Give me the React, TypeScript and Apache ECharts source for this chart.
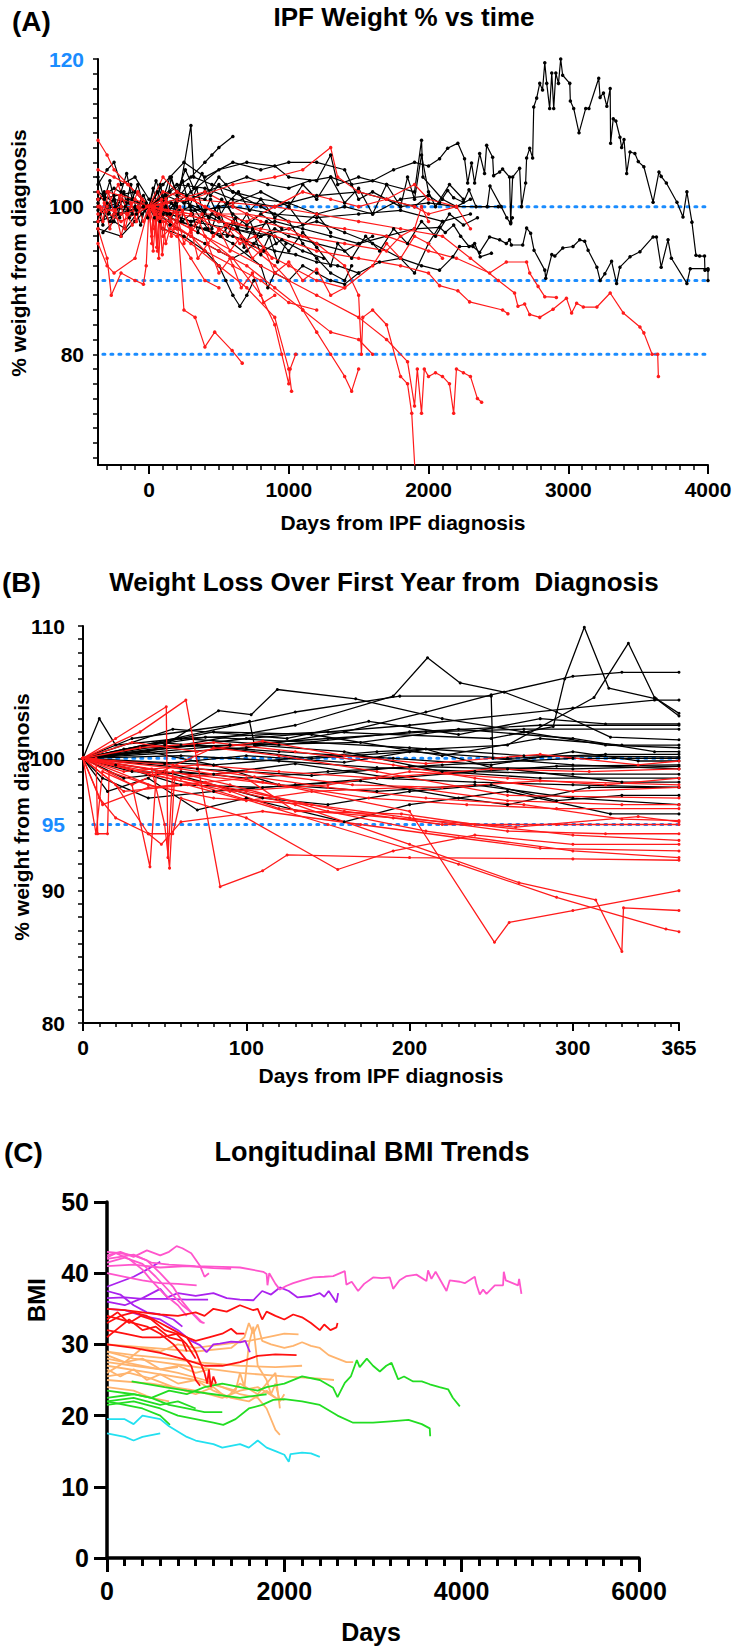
import React, { useEffect, useRef } from 'react';
import * as echarts from 'echarts';

type Pt = [number, number];

// ---------------- Panel A : IPF Weight % vs time ----------------
const A_xLabels = [0, 1000, 2000, 3000, 4000];
const A_yLabels = [80, 100, 120];
const A_refLines = [80, 90, 100];

const A_black: Pt[][] = [
  [[-365,101],[-250,102.5],[-120,101],[0,100],[120,101.5],[250,100.5],[400,102],[550,103],[700,104],[850,103],[1000,102.5],[1150,103.5],[1300,104],[1450,103],[1600,103.5],[1750,105],[1900,106],[2000,105.5],[2079,106.5],[2137,107.9],[2210,108.6],[2258,106.5],[2280,103.2],[2308,105.9],[2330,103.2],[2366,107.2],[2401,104.5],[2416,108.3],[2459,106.7],[2466,104.2],[2509,104.7],[2530,105.1],[2580,104],[2588,97.9],[2602,104],[2652,105.2],[2666,100],[2695,103.2],[2702,106.6],[2724,107.9],[2745,106.6],[2753,113.5],[2774,114.7],[2796,116.7],[2816,115.8],[2832,119.5],[2846,116.7],[2867,113.3],[2882,118.1],[2896,113.3],[2911,118.1],[2930,116.7],[2946,120],[2960,117.8],[3011,116.7],[3015,114.3],[3039,113.3],[3077,110],[3125,113.3],[3148,113.3],[3218,117.4],[3228,114.8],[3252,115.4],[3276,113.6],[3300,116],[3303,108.6],[3322,111.9],[3341,111.6],[3370,109.4],[3382,108],[3399,109.1],[3418,104.5],[3442,107.4],[3477,107.2],[3501,106.1],[3541,105.4],[3607,100.6],[3649,104.7],[3665,104.1],[3702,103.2],[3778,100.6],[3821,98.6],[3849,102],[3885,97.9],[3914,93.4],[3940,93.3],[3975,93.3],[3978,91.4],[4000,91.4]],
  [[-300,100],[-150,99.5],[0,100],[150,98.5],[300,97.5],[450,96.5],[600,96],[750,95],[900,94],[1050,93.5],[1200,92.5],[1350,92],[1500,91],[1650,92.5],[1800,93],[1950,92],[2079,91.4],[2174,93.2],[2222,94.6],[2318,94.6],[2366,93.8],[2437,95.9],[2509,95.5],[2557,95],[2580,95.5],[2593,94.8],[2674,94.8],[2702,97.1],[2731,96.4],[2755,94.1],[2832,91.4],[2839,90.3],[2882,93.5],[2904,93.3],[2961,94.4],[3034,94.6],[3082,95.5],[3118,95.3],[3142,94.1],[3205,91.8],[3228,90],[3262,90.9],[3310,92.6],[3346,89.6],[3370,91.8],[3442,93.2],[3513,93.9],[3607,95.9],[3631,95.9],[3665,91.8],[3714,95.5],[3738,93],[3849,89.6],[3873,91.6],[4000,91.6],[4000,90]],
  [[-350,99],[-250,101],[-150,100.5],[-50,99],[0,100],[100,101],[200,100],[300,111],[320,104],[450,103],[600,102],[800,101],[1000,100.5],[1200,99],[1400,100],[1600,99],[1800,101],[2000,101.5],[2079,100.5],[2137,102.2],[2180,101.2],[2250,100.6],[2290,102.3],[2340,100],[2420,100],[2440,102.8],[2520,100],[2560,98.5],[2588,97.7],[2600,98.5]],
  [[0,100],[150,102],[300,104],[400,106],[450,107],[500,108],[600,109.5]],
  [[-365,103],[-300,105],[-250,106],[-200,103],[-100,104],[0,101],[150,99],[300,100],[500,98],[700,97],[900,98],[1100,97],[1300,96],[1500,95],[1700,96],[1900,97],[2079,97.2],[2120,96.5],[2180,97.5],[2230,96],[2290,94.6],[2330,95],[2370,93.2],[2450,93.7]],
  [[-365,97],[-200,96],[-100,98],[0,100],[100,99],[300,102],[500,105],[700,106],[900,105.5],[1000,104],[1200,103.5],[1300,107],[1350,103],[1500,104],[1700,103],[1900,102],[1950,109],[1960,104],[2100,101],[2200,100],[2300,101]],
  [[-300,100],[-150,101],[0,100],[200,98],[400,97],[600,95],[800,92],[850,89],[900,91],[1000,90],[1100,92],[1200,91],[1300,90],[1400,89.5],[1500,91]],
  [[-365,102],[-200,100],[0,100],[100,103],[250,106],[400,104],[600,106],[800,105],[1000,106],[1200,106],[1400,105],[1500,101],[1600,102],[1800,100],[2000,100.5],[2200,100],[2500,100]],
  [[-250,99],[0,100],[200,97],[400,95],[500,94],[600,93],[700,94],[800,96],[900,97],[1000,96],[1200,95],[1400,94],[1600,96]],
  [[-365,98],[-200,99],[0,100],[300,99.5],[600,100],[900,99],[1200,98.5],[1500,99],[1800,99.5],[2100,98],[2300,99]],
  [[0,100],[200,102],[400,101],[500,104],[600,102],[800,100],[1000,98],[1100,95],[1200,93],[1300,91],[1400,90],[1450,92]],
  [[-200,100],[0,100],[100,97],[250,96],[400,94],[500,92],[550,90],[600,88],[650,86.5],[700,88],[750,90]],
  [[-365,101],[-100,102],[0,100],[200,103],[400,102.5],[600,101],[900,100],[1200,101.5],[1500,102],[1700,101],[1900,100],[2000,101.5]],
  [[0,100],[150,99],[300,98],[450,99],[600,97],[800,96],[1000,97],[1200,98],[1400,96.5],[1600,95],[1800,93],[1900,91],[2000,95],[2100,98]],
  [[-365,100],[-280,98],[-200,101],[-120,99],[-40,101.5],[0,100],[60,102],[130,99],[200,101],[280,103],[350,100],[430,98.5],[520,101],[600,99],[700,97.5],[800,99],[950,97]],
  [[-330,96.5],[-250,98],[-170,97],[-90,99],[0,100],[80,98],[160,100.5],[240,98],[330,99.5],[420,97],[510,96],[600,98],[700,95],[820,94],[950,95.5],[1100,94],[1250,93]],
  [[-365,100.5],[-320,102],[-290,99],[-250,101.5],[-210,98.5],[-170,100],[-130,103],[-90,99.5],[-50,101],[-10,98.5],[0,100],[30,102.5],[70,99],[110,101],[150,97.5],[190,100.5],[230,98],[270,101.5],[310,99],[350,96.5],[400,99.5],[450,97],[500,100],[560,96],[620,98.5],[680,94.5],[740,97],[800,93.5],[860,96],[920,92.5],[980,95]],
  [[-365,99.5],[-330,97.5],[-300,100.5],[-260,98],[-220,99],[-180,102],[-140,98.5],[-100,100],[-60,97.5],[-20,100.5],[0,100],[40,98.5],[80,103],[120,100],[160,104],[200,101.5],[240,103.5],[290,100],[340,102.5],[390,99],[440,101],[500,98.5],[560,100.5],[630,97],[700,99],[770,96],[840,98],[910,95]],
  [[-365,104],[-320,101],[-280,103.5],[-240,100],[-200,102],[-160,104.5],[-120,101],[-80,103],[-40,100],[0,100],[50,103.5],[100,101],[150,104],[200,102],[260,105],[320,102.5],[380,104.5],[440,101.5],[500,103],[560,100.5],[640,102],[720,99.5],[800,101],[900,98.5],[1000,100],[1100,97.5],[1200,99],[1300,96.5]],
  [[0,100],[200,101],[400,99.5],[600,100.5],[800,102],[1000,100],[1100,103],[1200,101],[1300,104],[1400,100.5],[1500,102.5],[1600,99],[1700,103],[1800,100],[1850,104],[1900,101],[1950,107],[2000,102],[2050,100],[2150,103],[2250,101]],
  [[0,100],[300,98],[600,97],[900,96],[1000,94],[1100,96.5],[1200,94.5],[1300,92],[1350,95],[1450,93],[1550,96],[1650,94],[1750,97],[1850,95],[1950,98],[2050,96],[2150,99],[2250,97.5],[2350,98.5]],
];

const A_red: Pt[][] = [
  [[-365,109],[-300,107],[-250,105],[-150,103],[-50,101],[0,100],[100,98],[200,97],[300,96],[400,94],[600,92],[800,90],[1000,87],[1200,86]],
  [[-365,97],[-300,93],[-270,88],[-200,91],[-100,90],[-40,89.5],[-20,92],[0,100],[100,97],[200,96],[300,93],[400,90],[500,89]],
  [[-350,100],[-200,99],[0,100],[20,95],[40,100],[60,94],[80,99],[100,96],[200,98],[400,96],[600,93],[800,88],[900,84],[950,80],[1000,76],[1010,78],[1050,80]],
  [[-300,102],[-100,101],[0,100],[200,99],[250,86],[330,85],[400,81],[470,83],[595,80.5],[667,78.8]],
  [[-365,99],[-200,100],[0,100],[200,101],[400,102],[600,100],[800,98],[1000,97],[1200,95],[1400,92],[1500,88],[1520,80],[1530,85],[1600,86],[1700,84],[1800,77],[1850,76],[1880,72],[1910,62]],
  [[-200,101],[0,100],[300,99],[500,97],[700,95],[900,92],[1000,90],[1100,86],[1200,83],[1300,80],[1400,77],[1450,75],[1500,78]],
  [[0,100],[300,101],[600,103],[900,104],[1100,105],[1300,108],[1350,104],[1500,102],[1700,101],[1900,100],[2000,99],[2200,100],[2300,97]],
  [[0,100],[200,99],[500,98],[800,97],[1100,96],[1400,95],[1700,94],[1800,96],[1900,97],[1950,100],[2000,98]],
  [[0,100],[400,96],[800,92],[1200,88],[1500,85],[1700,82],[1850,79],[1900,73],[1920,78],[1950,72],[1970,78],[2000,77],[2050,77.5],[2100,77],[2150,76],[2180,72],[2200,78],[2250,77.5],[2300,77],[2350,74],[2380,73.5]],
  [[0,100],[200,102],[400,100],[600,98],[900,96],[1200,94],[1500,93],[1800,92],[2000,91],[2079,89.3],[2210,88.6],[2294,87.1],[2530,86],[2568,85.5]],
  [[0,100],[300,99],[700,99],[1000,98],[1400,97],[1700,96],[2000,94],[2200,93],[2437,91],[2557,92.5],[2702,92.5],[2724,91],[2784,89.2],[2832,87.8],[2915,87.7]],
  [[0,100],[300,101],[600,100.5],[900,100],[1200,99],[1500,98],[1800,97],[2100,96],[2300,93],[2500,90],[2616,88.3],[2640,86.5],[2688,86.8],[2724,85.4],[2796,85],[2891,86.1],[2987,87.6],[3024,85.6],[3060,86.9],[3108,86.4],[3205,86.4],[3300,88.3],[3394,85.6],[3513,83.7],[3541,82.9],[3600,80],[3640,80],[3645,77]],
  [[-365,100],[-200,98],[0,100],[30,94],[50,99],[70,93],[90,100],[120,95],[150,97],[300,95],[500,92],[700,89],[900,85],[1000,78],[1020,75]],
  [[-365,105],[-250,104],[-150,103],[0,100],[100,102],[300,101],[500,99],[700,98],[900,100],[1100,102],[1300,101],[1500,100],[1700,101],[1900,103],[2000,101],[2200,100]],
  [[-365,95],[-300,92],[-250,91],[-100,93],[0,100],[150,98],[300,96],[500,94],[700,92],[900,89],[1100,86],[1300,83],[1500,82],[1600,80]],
  [[0,100],[100,104],[200,102],[400,100],[600,97],[800,94],[1000,92],[1200,90],[1400,89],[1600,92],[1700,95],[1800,93],[1900,96],[2000,95],[2100,93]],
  [[-365,102],[-300,100],[-220,103],[-150,99],[-80,102],[0,100],[40,97],[90,101],[150,98.5],[220,100],[300,97],[380,99],[460,96],[550,97.5],[650,95],[760,96],[880,93]],
  [[-365,101],[-330,98],[-290,102],[-250,99],[-210,101.5],[-170,97],[-130,100.5],[-90,98],[-50,101],[0,100],[20,96],[35,100],[55,94.5],[75,99],[95,93.5],[120,98],[160,96],[200,99],[250,95],[300,97],[350,93],[420,95],[500,91],[580,93],[660,89],[740,91],[820,87],[900,88]],
  [[-365,98],[-320,100.5],[-280,97],[-240,99.5],[-200,96],[-160,99],[-120,97.5],[-80,100],[-40,98],[0,100],[60,98.5],[120,101],[180,97],[240,99.5],[300,96.5],[360,98],[420,95],[500,97],[580,94],[660,96],[740,93],[820,94.5],[900,91],[1000,92.5],[1100,90],[1200,91.5],[1300,88],[1400,89]],
];

// ---------------- Panel B : first year ----------------
const B_xLabels = [0, 100, 200, 300, 365];
const B_yLabels = [80, 90, 95, 100, 110];
const B_refLines = [95, 100];

const B_black: Pt[][] = [
  [[0,100],[60,101.5],[150,102],[250,101.5],[288,102.4],[295,106],[307,109.9],[322,105.3],[351,104.5],[365,103.2]],
  [[0,100],[80,99.5],[180,100.5],[260,101],[313,104.6],[334,108.7],[350,104.6],[365,103.4]],
  [[0,100],[60,101],[130,102.5],[190,104.7],[211,107.6],[231,105.7],[258,105],[290,103.5],[323,101.6],[365,101.4]],
  [[0,100],[50,101],[83,103.6],[103,103.3],[119,105.2],[167,104.5],[220,103],[270,102],[320,101],[365,100.8]],
  [[0,100],[100,100.8],[160,102],[210,103.5],[250,104.8],[300,106.2],[330,106.5],[365,106.5]],
  [[0,100],[130,103.5],[194,104.7],[250,104.7],[251,100],[300,99.5],[365,99.2]],
  [[0,100],[100,101.5],[200,102.5],[300,103.8],[350,104.4],[365,104.4]],
  [[0,100],[10,103],[20,101],[60,101.5],[120,101],[200,102],[280,102.5],[365,102.5]],
  [[0,100],[25,98.5],[60,99],[100,98.5],[150,99],[220,99.5],[300,100],[365,100]],
  [[0,100],[15,97.5],[40,98.5],[70,96.1],[100,97],[160,95.2],[200,96.5],[260,97.5],[323,95.8],[365,95.8]],
  [[0,100],[30,101.5],[90,102.5],[102,102.8],[105,101],[160,100.5],[220,99],[280,98.5],[365,98.5]],
  [[0,100],[40,100.5],[80,99.5],[120,98],[180,97.5],[240,98],[300,97],[365,96.5]],
  [[0,100],[70,101],[140,100],[200,100.5],[260,100],[320,100.3],[365,100.3]],
  [[0,100],[50,99],[110,97],[150,96.5],[200,97.5],[250,98],[290,96.8],[330,97.2],[365,97.2]],
  [[0,100],[80,102],[140,101.8],[220,100.2],[280,101.5],[330,101],[365,101]],
  [[0,100],[60,100.2],[120,99.8],[180,99.3],[240,99],[300,98.8],[365,98.8]],
  [[0,100],[35,100.8],[90,101],[150,101.5],[210,102],[270,102.2],[365,102.2]],
  [[0,100],[20,99.5],[60,98],[110,97.8],[170,98.3],[230,97],[260,96.5],[310,97.8],[365,97.8]],
  [[0,100],[45,101.2],[120,100.5],[190,100],[250,99.5],[300,100.5],[340,99.8],[365,99.8]],
  [[0,100],[30,99],[80,98.8],[130,99.6],[190,98.5],[240,99],[290,99.4],[365,99.5]],
  [[0,100],[90,101],[170,101.2],[230,102.2],[300,101.5],[350,100.5],[365,100.5]],
  [[0,100],[55,102.2],[125,101.5],[175,102.8],[230,101.8],[280,103],[320,102.6],[365,102.6]],
  [[0,100],[12,98.5],[40,97],[80,97.5],[130,98],[180,98.5],[240,98.2],[300,98],[365,97.8]],
  [[0,100],[70,99.2],[140,98.7],[200,99.4],[260,99.2],[330,98.2],[365,98.2]],
  [[0,100],[25,100.7],[75,101.6],[140,101.2],[200,100.8],[270,100.2],[365,100.1]],
  [[0,100],[50,99.6],[100,100.2],[160,99.7],[210,100.7],[250,99.3],[300,99.2],[365,99.4]],
];

const B_red: Pt[][] = [
  [[0,100],[8,100],[9,94.3],[15,94.3],[16,99],[40,98],[80,97],[140,96.5],[200,95.5],[260,94.5],[320,94.3],[365,94.3]],
  [[0,100],[30,98],[41,91.8],[45,99],[60,98.5],[100,97.5],[160,96],[220,95],[290,95],[365,95]],
  [[0,100],[20,101.5],[51,103.9],[52,92.5],[55,99],[90,98],[150,96],[210,94.5],[300,93],[365,92.5]],
  [[0,100],[35,102],[63,104.4],[84,90.3],[110,91.5],[125,92.7],[200,92.5],[300,92.4],[365,92.3]],
  [[0,100],[20,98],[40,94.3],[55,94.3],[60,97],[100,95.5],[156,91.6],[190,93],[240,94.2],[300,93.5],[365,93.5]],
  [[0,100],[50,99],[120,98],[200,96],[252,86.1],[261,87.6],[300,88.5],[365,90]],
  [[0,100],[60,98.5],[130,96.5],[200,93.5],[267,90.6],[314,89.3],[330,85.4],[331,88.7],[365,88.5]],
  [[0,100],[70,98],[150,95],[230,92],[290,89.5],[357,87.1],[365,86.9]],
  [[0,100],[25,99],[70,99.5],[120,99],[180,98.5],[250,99.2],[310,99],[365,99.2]],
  [[0,100],[40,98.8],[90,97.5],[150,98],[200,99],[260,98.5],[320,98],[365,98.5]],
  [[0,100],[35,100.8],[80,101.2],[130,100.5],[190,99.5],[240,98.5],[300,97.5],[365,97.8]],
  [[0,100],[60,99.2],[110,98.2],[175,97],[235,96.5],[290,96.2],[365,96.2]],
  [[0,100],[45,97.8],[100,98.5],[130,96],[195,95.8],[240,95],[300,94.2],[365,93.8]],
  [[0,100],[10,97],[20,95.5],[40,94.3],[48,93.5],[60,95.2],[110,96],[170,95],[230,94],[280,93.2],[365,93]],
  [[0,100],[8,94.3],[12,99],[30,98],[80,100.8],[120,100.2],[180,99],[260,97.2],[365,97]],
  [[0,100],[55,99.5],[105,98.6],[150,97.8],[210,97],[270,96.5],[330,95.4],[365,95.3]],
  [[0,100],[30,101.2],[70,100.5],[110,101.3],[160,100.2],[210,99.6],[280,100.3],[340,99.5],[365,99.8]],
  [[0,100],[25,97.5],[64,98],[100,96.8],[140,97.5],[200,97.8],[260,96.8],[330,96.5],[365,96.5]],
  [[0,100],[42,99.2],[50,95],[53,91.7],[56,98.5],[100,99],[165,98],[220,97.8],[280,98.3],[365,98]],
  [[0,100],[12,96.5],[40,97.8],[75,98.2],[120,96.2],[190,95.5],[265,94.8],[340,95.6],[365,95.2]],
];

// ---------------- Panel C : BMI ----------------
const C_xLabels = [0, 2000, 4000, 6000];
const C_yLabels = [0, 10, 20, 30, 40, 50];

const C_pink: Pt[][] = [
  [[0,42],[150,42.3],[300,42.6],[500,41.5],[700,41.2],[1000,41],[1300,40.9],[1500,40.8],[1762,40.2],[1800,39.9],[1810,38.3],[1830,40],[1900,38.5],[1950,37.7],[2020,38.2],[2100,38.6],[2200,39],[2326,39.4],[2450,39.5],[2551,39.6],[2682,40.3],[2700,38.4],[2760,38.8],[2832,37.5],[2900,38.5],[3001,39.4],[3100,39.3],[3190,39.4],[3227,37.8],[3300,39],[3378,39.6],[3490,39.8],[3603,38.9],[3621,40.4],[3659,39.2],[3706,40.2],[3829,37.5],[3866,39],[3979,38.8],[4035,38.6],[4148,39.5],[4167,38.4],[4204,37],[4242,37.7],[4280,37.1],[4374,38.3],[4467,38.3],[4475,40.2],[4497,39],[4636,38.3],[4648,39.2],[4674,37.1]],
  [[0,43],[150,42.8],[300,42.5],[450,41.8],[600,40],[750,38],[850,36],[950,34.5],[1050,33.2],[1100,33]],
  [[0,41.5],[200,42.2],[400,41.3],[550,39.5],[700,37.5],[850,35.5],[1000,34],[1080,33]],
  [[0,42.5],[150,43],[300,42.3],[450,43.2],[600,42.5],[700,43],[785,43.8],[850,43.5],[950,42.8],[1050,41],[1100,39.5],[1150,40]],
  [[0,41],[300,41.2],[600,40.8],[900,41],[1200,40.7],[1400,40.6]],
  [[0,40],[200,39.5],[400,39],[600,38.6],[800,38.5],[1011,38.3]],
  [[0,42.2],[100,42.8],[250,42],[400,40.5],[500,39],[650,37],[800,35.5],[900,34]],
];
const C_purple: Pt[][] = [
  [[0,38.1],[150,38.8],[300,39.5],[450,40.5],[600,41.6]],
  [[0,36],[200,35.5],[400,36.5],[600,37.8],[680,36.6],[800,37.2],[1000,36.8],[1200,37.2],[1350,36.5],[1500,36.3],[1650,36.2],[1750,37.5],[1850,37],[1950,38],[2050,37.5],[2150,36.6],[2300,36.8],[2400,37.2],[2450,36.7],[2500,37.5],[2588,35.9],[2607,37.2]],
  [[0,36.5],[200,36.6],[400,36.4],[700,36.4],[900,36.3],[1140,36.3]],
  [[0,35],[200,34.8],[400,34],[600,33.5],[800,32],[950,30.5],[1048,29.9],[1123,28.9],[1200,30],[1273,30.1],[1400,30.4],[1500,30.3],[1560,30.5],[1612,28.9]],
  [[0,37.5],[150,37],[300,35.5],[450,34.5],[600,34.2],[750,33.5],[850,32.5]],
];
const C_red: Pt[][] = [
  [[0,33],[150,34],[300,34.5],[450,34],[600,33],[750,32],[900,31],[1000,29],[1050,27.5],[1100,26],[1130,24.5],[1150,26.5],[1170,24],[1200,25.5],[1230,24.5]],
  [[0,35],[200,34.8],[400,34.5],[600,34.2],[800,34],[1000,34.5],[1100,34],[1200,35],[1350,34.6],[1500,35.5],[1650,34.8],[1700,35],[1750,33.5],[1800,34.6],[1900,34],[2000,33.5],[2100,34.2],[2200,33.8],[2300,33],[2400,32],[2450,32.8],[2520,32],[2588,32.4],[2600,33]],
  [[0,32],[200,31.5],[400,31],[600,31],[800,31.5],[1000,30.5],[1150,31],[1300,31.5],[1400,32.2],[1465,31.5],[1550,31.5]],
  [[0,30],[300,29.5],[600,28.8],[900,27.8],[1100,27],[1300,27],[1500,27.5],[1700,28.4],[1900,28.6],[2138,28.5]],
  [[0,34],[150,33.5],[300,33],[450,32.5],[600,31.5],[750,30],[850,28.5],[950,27],[1000,25],[1050,24.2]],
  [[0,31],[100,32],[250,33.5],[400,32],[550,32.5],[700,31],[850,30.5],[900,29]],
  [[0,33.5],[120,34.5],[250,33],[380,34],[500,33.5],[650,32],[780,31.5],[900,30],[1000,28]],
];
const C_orange: Pt[][] = [
  [[0,29],[300,28],[600,27.5],[900,27],[1200,26.5],[1500,26],[2000,25.5],[2400,25.2],[2560,25]],
  [[0,30],[500,29.5],[1000,29],[1400,29.5],[1550,31],[1600,33],[1650,31.5],[1700,32.8],[1750,30.5],[1850,30],[2000,29.5],[2100,29.8],[2200,30.3],[2300,29.8],[2400,29.5],[2500,28.5],[2600,28],[2700,27.5],[2776,27.5]],
  [[0,28],[400,27],[800,26],[1100,25],[1300,24],[1500,23],[1700,22.5],[1800,21],[1900,18],[1950,17.3]],
  [[0,27],[500,26],[1000,25],[1300,24],[1450,23.5],[1500,26],[1550,24],[1600,30],[1650,32.5],[1700,27],[1800,25],[1850,23],[1900,24.5],[1950,22],[2000,23]],
  [[0,25],[500,24.5],[1000,23.5],[1300,22.5],[1500,23.5],[1700,24],[1900,22.5],[2000,22.2]],
  [[0,26],[200,27.5],[400,29.5],[600,29],[800,30],[1000,29.5],[1300,30],[1600,30.5],[1800,31],[2000,31.5],[2160,31.4]],
  [[0,24],[300,23.5],[500,22.5],[700,22]],
  [[0,27.5],[300,27],[600,26.5],[800,26.8]],
  [[0,29],[300,28.5],[700,28],[1000,27.5],[1500,27],[1900,26.8],[2200,27]],
  [[0,26.5],[150,25.5],[300,26.5],[450,25],[600,25.8],[800,24.5],[1000,25],[1200,23.5],[1400,22.5],[1600,22],[1800,23.5],[1900,22.5]],
  [[0,28.5],[200,27.5],[400,28],[600,26.5],[800,27],[1000,26],[1150,26.5]],
  [[0,25.5],[250,26],[500,25.2],[750,24],[1000,23],[1200,24],[1350,22.5],[1500,24.5],[1700,23],[1900,26],[1950,21]],
];
const C_green: Pt[][] = [
  [[0,22.5],[300,23],[500,22.5],[700,23.5],[900,23],[1100,24],[1300,24.5],[1500,24],[1700,23.5],[1800,24],[2000,24.5],[2200,25.5],[2400,25],[2550,23.9],[2600,22.6],[2682,24.6],[2750,25.5],[2818,27.8],[2850,26.8],[2930,28],[3000,27],[3077,26.2],[3150,27],[3209,27.4],[3284,25.1],[3350,25.5],[3453,24.8],[3550,24.8],[3640,24.4],[3750,24],[3847,23.7],[3900,22.5],[3979,21.3]],
  [[0,21.5],[300,22],[600,21],[800,20],[1000,19.5],[1200,19],[1311,18.7],[1450,19.5],[1600,21],[1750,21.5],[1875,22.2],[2000,22.3],[2200,22],[2400,21.5],[2600,20],[2776,19],[3000,19],[3200,19.2],[3400,19.4],[3550,18.8],[3640,18.2],[3645,17.1]],
  [[0,23.5],[300,23],[500,22.5],[700,21.5],[900,21],[1100,20.5],[1300,20.5]],
  [[0,22],[200,21.5],[400,21],[600,20],[710,18.7]],
  [[278,24.8],[650,24],[900,23.5],[1200,23],[1500,22.5],[1800,23]],
  [[0,22],[300,22.5],[600,21.5],[800,22],[1000,21]],
];
const C_cyan: Pt[][] = [
  [[0,19.5],[200,19.5],[300,18.8],[400,20],[600,19.5],[700,18.5],[900,17],[1000,16.5],[1200,16],[1300,15.5],[1500,16],[1600,15.5],[1700,16.5],[1800,15.5],[1900,15],[2000,14.5],[2050,13.5],[2070,14.6],[2200,14.8],[2300,14.7],[2400,14.2]],
  [[0,17.5],[200,17],[300,16.5],[400,17],[600,17.5]],
];

// ---------------- helpers ----------------
const FONT = '"Liberation Sans", Arial, Helvetica, sans-serif';
const BLUE = '#1a8cff';

function steps(from: number, to: number, step: number): number[] {
  const out: number[] = [];
  for (let v = from; v <= to + 1e-9; v += step) out.push(Math.round(v * 1000) / 1000);
  return out;
}

function lines(groups: Pt[][], color: string, xi: number, yi: number, width: number, sym: number) {
  return groups.map((d) => ({
    type: 'line',
    xAxisIndex: xi,
    yAxisIndex: yi,
    data: d,
    silent: true,
    symbol: sym > 0 ? 'circle' : 'none',
    symbolSize: sym,
    showSymbol: sym > 0,
    lineStyle: { color, width },
    itemStyle: { color },
    z: 3,
  }));
}

function refLines(vals: number[], x0: number, x1: number, xi: number, yi: number) {
  return vals.map((v) => ({
    type: 'line',
    xAxisIndex: xi,
    yAxisIndex: yi,
    data: [[x0, v], [x1, v]],
    silent: true,
    symbol: 'none',
    lineStyle: { color: BLUE, width: 3, type: [2, 6], cap: 'round' },
    z: 2,
  }));
}

const labelStyle = (size: number) => ({
  fontFamily: FONT,
  fontWeight: 'bold',
  fontSize: size,
});
const plain = (v: any) => String(v);

export default function App() {
  const ref = useRef<HTMLDivElement>(null);
  useEffect(() => {
    if (!ref.current) return;
    const chart = echarts.init(ref.current, null, { renderer: 'svg' });
    const axLine = (w: number) => ({ show: true, onZero: false, lineStyle: { color: '#000', width: w } });
    const option: any = {
      animation: false,
      backgroundColor: '#fff',
      grid: [
        { left: 98, top: 59, width: 610, height: 406 },
        { left: 83, top: 626, width: 596, height: 397 },
        { left: 107, top: 1202, width: 532, height: 356 },
      ],
      xAxis: [
        { gridIndex: 0, position: 'bottom', type: 'value', min: -365, max: 4000, axisLine: axLine(2), splitLine: { show: false },
          axisTick: { show: true, customValues: steps(-300, 4000, 100), length: 5, lineStyle: { color: '#000', width: 1.5 } },
          axisLabel: { customValues: A_xLabels, formatter: plain, margin: 14, color: '#000', ...labelStyle(21) } },
        { gridIndex: 0, position: 'bottom', type: 'value', min: -365, max: 4000, axisLine: { show: false }, splitLine: { show: false },
          axisTick: { show: true, customValues: A_xLabels, length: 9, lineStyle: { color: '#000', width: 2 } },
          axisLabel: { show: false } },
        { gridIndex: 1, position: 'bottom', type: 'value', min: 0, max: 365, axisLine: axLine(2), splitLine: { show: false },
          axisTick: { show: true, customValues: steps(0, 360, 10).concat([365]), length: 4, lineStyle: { color: '#000', width: 1.5 } },
          axisLabel: { customValues: B_xLabels, formatter: plain, margin: 14, color: '#000', ...labelStyle(21) } },
        { gridIndex: 1, position: 'bottom', type: 'value', min: 0, max: 365, axisLine: { show: false }, splitLine: { show: false },
          axisTick: { show: true, customValues: B_xLabels, length: 8, lineStyle: { color: '#000', width: 2 } },
          axisLabel: { show: false } },
        { gridIndex: 2, position: 'bottom', type: 'value', min: 0, max: 6000, axisLine: axLine(3.5), splitLine: { show: false },
          axisTick: { show: true, customValues: steps(0, 6000, 200), length: 8, lineStyle: { color: '#000', width: 3 } },
          axisLabel: { customValues: C_xLabels, formatter: plain, margin: 20, color: '#000', ...labelStyle(25) } },
        { gridIndex: 2, position: 'bottom', type: 'value', min: 0, max: 6000, axisLine: { show: false }, splitLine: { show: false },
          axisTick: { show: true, customValues: C_xLabels, length: 14, lineStyle: { color: '#000', width: 3 } },
          axisLabel: { show: false } },
      ],
      yAxis: [
        { gridIndex: 0, position: 'left', type: 'value', min: 65, max: 120, axisLine: axLine(2), splitLine: { show: false },
          axisTick: { show: true, customValues: steps(66, 120, 2), length: 5, lineStyle: { color: '#000', width: 1.5 } },
          axisLabel: { customValues: A_yLabels, formatter: plain, margin: 14, ...labelStyle(21),
            color: (v: any) => (Number(v) === 120 ? BLUE : '#000') } },
        { gridIndex: 1, position: 'left', type: 'value', min: 80, max: 110, axisLine: axLine(2), splitLine: { show: false },
          axisTick: { show: true, customValues: steps(80, 110, 1), length: 5, lineStyle: { color: '#000', width: 1.5 } },
          axisLabel: { customValues: B_yLabels, formatter: plain, margin: 18, ...labelStyle(21),
            color: (v: any) => (Number(v) === 95 ? BLUE : '#000') } },
        { gridIndex: 2, position: 'left', type: 'value', min: 0, max: 50, axisLine: axLine(3.5), splitLine: { show: false },
          axisTick: { show: true, customValues: C_yLabels, length: 13, lineStyle: { color: '#000', width: 3 } },
          axisLabel: { customValues: C_yLabels, formatter: plain, margin: 18, color: '#000', ...labelStyle(25) } },
      ],
      series: [
        ...refLines(A_refLines, -330, 4000, 0, 0),
        ...lines(A_black, '#000000', 0, 0, 1.2, 3.5),
        ...lines(A_red, '#ff1a1a', 0, 0, 1.2, 3.5),
        ...refLines(B_refLines, 6, 365, 2, 1),
        ...lines(B_black, '#000000', 2, 1, 1.3, 3),
        ...lines(B_red, '#ff1a1a', 2, 1, 1.3, 3),
        ...lines(C_orange, '#ffb46e', 4, 2, 1.8, 0),
        ...lines(C_green, '#22dd22', 4, 2, 1.8, 0),
        ...lines(C_cyan, '#22e0f0', 4, 2, 1.8, 0),
        ...lines(C_purple, '#aa22ee', 4, 2, 1.8, 0),
        ...lines(C_pink, '#ff55cc', 4, 2, 1.8, 0),
        ...lines(C_red, '#ff1010', 4, 2, 1.8, 0),
      ],
      graphic: [
        { type: 'text', x: 12, y: 21, style: { text: '(A)', font: `bold 28px ${FONT}`, fill: '#000', align: 'left', verticalAlign: 'middle' } },
        { type: 'text', x: 404, y: 17, style: { text: 'IPF Weight % vs time', font: `bold 26px ${FONT}`, fill: '#000', align: 'center', verticalAlign: 'middle' } },
        { type: 'text', x: 18, y: 253, rotation: Math.PI / 2, style: { text: '% weight from diagnosis', font: `bold 21px ${FONT}`, fill: '#000', align: 'center', verticalAlign: 'middle' } },
        { type: 'text', x: 403, y: 522, style: { text: 'Days from IPF diagnosis', font: `bold 21px ${FONT}`, fill: '#000', align: 'center', verticalAlign: 'middle' } },
        { type: 'text', x: 2, y: 582, style: { text: '(B)', font: `bold 28px ${FONT}`, fill: '#000', align: 'left', verticalAlign: 'middle' } },
        { type: 'text', x: 384, y: 582, style: { text: 'Weight Loss Over First Year from  Diagnosis', font: `bold 26px ${FONT}`, fill: '#000', align: 'center', verticalAlign: 'middle' } },
        { type: 'text', x: 21, y: 817, rotation: Math.PI / 2, style: { text: '% weight from diagnosis', font: `bold 21px ${FONT}`, fill: '#000', align: 'center', verticalAlign: 'middle' } },
        { type: 'text', x: 381, y: 1075, style: { text: 'Days from IPF diagnosis', font: `bold 21px ${FONT}`, fill: '#000', align: 'center', verticalAlign: 'middle' } },
        { type: 'text', x: 4, y: 1152, style: { text: '(C)', font: `bold 28px ${FONT}`, fill: '#000', align: 'left', verticalAlign: 'middle' } },
        { type: 'text', x: 372, y: 1152, style: { text: 'Longitudinal BMI Trends', font: `bold 27px ${FONT}`, fill: '#000', align: 'center', verticalAlign: 'middle' } },
        { type: 'text', x: 36, y: 1300, rotation: Math.PI / 2, style: { text: 'BMI', font: `bold 24px ${FONT}`, fill: '#000', align: 'center', verticalAlign: 'middle' } },
        { type: 'text', x: 371, y: 1632, style: { text: 'Days', font: `bold 25px ${FONT}`, fill: '#000', align: 'center', verticalAlign: 'middle' } },
      ],
    };
    chart.setOption(option);
    return () => chart.dispose();
  }, []);
  return (
    <div
      ref={ref}
      style={{ position: 'absolute', left: 0, top: 0, width: 736, height: 1652, background: '#fff' }}
    />
  );
}
